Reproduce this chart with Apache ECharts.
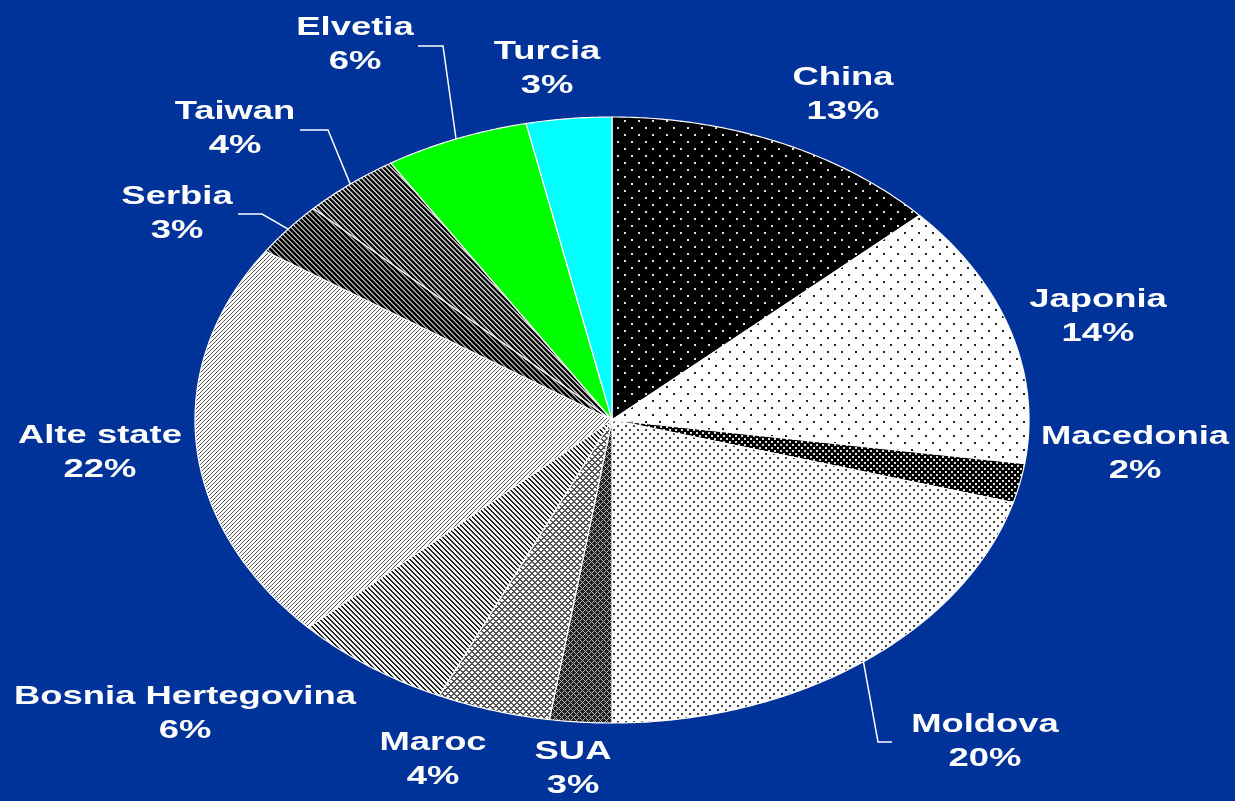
<!DOCTYPE html>
<html>
<head>
<meta charset="utf-8">
<script src="https://cdn.jsdelivr.net/npm/echarts@6/dist/echarts.min.js"></script>
<style>
  html, body { margin: 0; padding: 0; background: #003399; }
  #chart { width: 1235px; height: 801px; }
</style>
</head>
<body>
<div id="chart"></div>
<script>
// slice data, clockwise from 12 o'clock
const countries = ['China', 'Japonia', 'Macedonia', 'Moldova', 'SUA', 'Maroc',
  'Bosnia Hertegovina', 'Alte state', 'Serbia', 'Taiwan', 'Elvetia', 'Turcia'];
const shares = [13.2, 14.1, 2.1, 20.6, 2.4, 4.4, 6.2, 21.4, 2.9, 3.8, 5.6, 3.3];
const shareLabels = ['13%', '14%', '2%', '20%', '3%', '4%', '6%', '22%', '3%', '4%', '6%', '3%'];

// layout (pixels)
const pie = { cx: 612, cy: 420, rx: 417, ry: 303 };
const labelAt = {
  'China': [843, 78], 'Japonia': [1098, 300], 'Macedonia': [1135, 437],
  'Moldova': [985, 725], 'SUA': [573, 752], 'Maroc': [433, 743],
  'Bosnia Hertegovina': [185, 697], 'Alte state': [100, 436], 'Serbia': [177, 197],
  'Taiwan': [235, 112], 'Elvetia': [355, 28], 'Turcia': [547, 52]
};
const leaders = {
  'Moldova': [[878, 742], [892, 742]],
  'Serbia': [[262, 214], [238, 214]],
  'Taiwan': [[328, 130], [300, 130]],
  'Elvetia': [[443, 46], [418, 46]]
};

// pixel-tile patterns
function tile(size, bg, fg, test) {
  const c = document.createElement('canvas');
  c.width = size; c.height = size;
  const ctx = c.getContext('2d');
  ctx.fillStyle = bg;
  ctx.fillRect(0, 0, size, size);
  ctx.fillStyle = fg;
  for (let y = 0; y < size; y++) {
    for (let x = 0; x < size; x++) {
      if (test(x, y)) ctx.fillRect(x, y, 1, 1);
    }
  }
  return { image: c, repeat: 'repeat' };
}
const dots = (s, o) => (x, y) => {
  const a = x % s, b = y % s;
  const h = s / 2;
  return (a >= o && a < o + 2 && b >= o && b < o + 2) ||
    (((a + h) % s) >= o && ((a + h) % s) < o + 2 && ((b + h) % s) >= o && ((b + h) % s) < o + 2);
};
const back = (s, w) => (x, y) => ((x - y) % s + s) % s < w;
const fwd = (s, w) => (x, y) => (x + y) % s < w;

const fills = [
  tile(14, '#000', '#e0e0e0', dots(14, 1)),
  tile(14, '#fff', '#222', dots(14, 1)),
  tile(6, '#000', '#ddd', dots(6, 0)),
  tile(8, '#fff', '#444', dots(8, 1)),
  tile(6, '#222', '#bbb', (x, y) => back(6, 1)(x, y) || fwd(6, 1)(x, y)),
  tile(6, '#fff', '#555', (x, y) => back(6, 2)(x, y) || fwd(6, 2)(x, y)),
  tile(5, '#f4f4f4', '#222', back(5, 2)),
  tile(4, '#fff', '#555', fwd(4, 1)),
  tile(5, '#999', '#000', back(5, 3)),
  tile(5, '#bbb', '#111', back(5, 3)),
  '#00ff00',
  '#00ffff'
];

const total = shares.reduce((a, b) => a + b, 0);
let run = 0;
const sliceData = shares.map((v) => { const d = [v, run]; run += v; return d; });

function onEllipse(a) {
  return [pie.cx + pie.rx * Math.sin(a), pie.cy - pie.ry * Math.cos(a)];
}

function renderSlice(params, api) {
  const i = params.dataIndex;
  const name = countries[i];
  const a0 = api.value(1) / total * Math.PI * 2;
  const a1 = (api.value(1) + api.value(0)) / total * Math.PI * 2;
  const pts = [[pie.cx, pie.cy]];
  const steps = Math.max(4, Math.ceil((a1 - a0) / 0.01));
  for (let k = 0; k <= steps; k++) pts.push(onEllipse(a0 + (a1 - a0) * k / steps));

  const children = [{
    type: 'polygon',
    shape: { points: pts },
    style: { fill: fills[i], stroke: '#fff', lineWidth: 1.2 }
  }];

  const [lx, ly] = labelAt[name];
  if (leaders[name]) {
    children.push({
      type: 'polyline',
      shape: { points: [onEllipse((a0 + a1) / 2)].concat(leaders[name]) },
      style: { stroke: '#fff', lineWidth: 1.5, fill: null }
    });
  }
  [name, shareLabels[i]].forEach((t, j) => {
    children.push({
      type: 'text',
      x: lx, y: ly + j * 34,
      scaleX: 1.4,
      style: {
        text: t, fill: '#fff',
        font: 'bold 26px "Liberation Sans", Arial, sans-serif',
        textAlign: 'center', textVerticalAlign: 'middle', verticalAlign: 'middle'
      }
    });
  });
  return { type: 'group', children: children };
}

const myChart = echarts.init(document.getElementById('chart'));
myChart.setOption({
  backgroundColor: '#003399',
  animation: false,
  series: [{
    type: 'custom',
    coordinateSystem: 'none',
    silent: true,
    data: sliceData,
    renderItem: renderSlice
  }]
});
</script>
</body>
</html>
